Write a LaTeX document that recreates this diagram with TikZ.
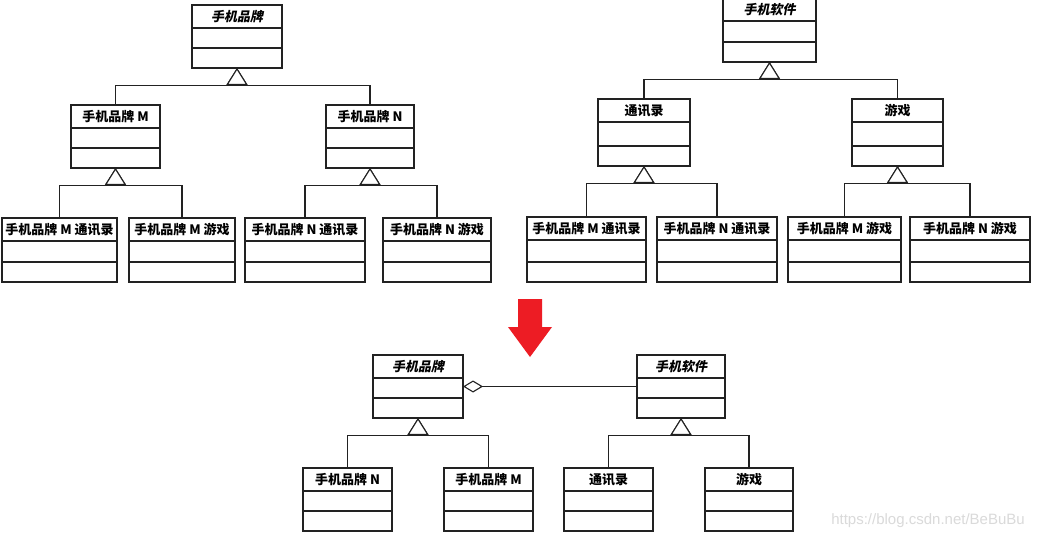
\documentclass[tikz,border=0pt]{standalone}
\usepackage{fontspec}
\newfontfamily\cjk{Noto Sans CJK SC}
\newfontfamily\cjkslant{Noto Sans CJK SC}[FakeSlant=0.2, BoldFeatures={FakeSlant=0.2}]
\setsansfont{Liberation Sans}
\usetikzlibrary{arrows.meta,calc}

\definecolor{umlink}{HTML}{222222}
\definecolor{arrowred}{HTML}{ED1C24}
\definecolor{wmgray}{HTML}{DADADA}

\begin{document}
\begin{tikzpicture}[
    x=1pt, y=-1pt,
    line width=1.1pt,
    every node/.style={font=\cjk\fontsize{13}{13}\bfseries},
    classbox/.style={draw=umlink, fill=white, inner sep=0pt, outer sep=0pt, anchor=north west},
    inh/.style={draw=umlink, -{Triangle[open, length=17pt, width=21pt, fill=white]}},
    agg/.style={draw=umlink, -{Diamond[open, length=20pt, width=12pt, fill=white]}},
  ]

  % ---- helpers -------------------------------------------------------
  % class box: name, left, top, right, bottom, title
  \newcommand{\umlclass}[6]{%
    \node[classbox, minimum width={(#4-#2)*1pt}, minimum height={(#5-#3)*1pt}] (#1) at (#2,#3) {};
    \node (#1-t) at ($(#1.north)+(0,11.5)$) {#6};
    \draw[umlink] (#2,#3+23) -- (#4,#3+23);
    \draw[umlink] (#2,#5-20) -- (#4,#5-20);
  }
  % generalisation: parent, child
  \newcommand{\inherit}[2]{%
    \draw[inh] (#2.north) |- ($(#1.south)+(0,17.5)$) -- (#1.south);
  }

  \fill[white] (0,0) rectangle (1039,540);
  \useasboundingbox (0,0) rectangle (1039,540);

  % ---- brand first (top left) ----------------------------------------
  \umlclass{brandA}{192}{5}{282}{68}{\cjkslant 手机品牌}
  \umlclass{brandAM}{71}{105}{160}{168}{手机品牌 M}
  \umlclass{brandAN}{326}{105}{414}{168}{手机品牌 N}
  \umlclass{mContacts}{2}{218}{117}{282}{手机品牌 M 通讯录}
  \umlclass{mGame}{129}{218}{235}{282}{手机品牌 M 游戏}
  \umlclass{nContacts}{245}{218}{365}{282}{手机品牌 N 通讯录}
  \umlclass{nGame}{383}{218}{491}{282}{手机品牌 N 游戏}

  \inherit{brandA}{brandAM}
  \inherit{brandA}{brandAN}
  \inherit{brandAM}{mContacts}
  \inherit{brandAM}{mGame}
  \inherit{brandAN}{nContacts}
  \inherit{brandAN}{nGame}

  % ---- software first (top right) ------------------------------------
  \umlclass{softB}{723}{-2}{816}{62}{\cjkslant 手机软件}
  \umlclass{softBC}{598}{99}{690}{166}{通讯录}
  \umlclass{softBG}{852}{99}{943}{166}{游戏}
  \umlclass{cM}{527}{217}{646}{282}{手机品牌 M 通讯录}
  \umlclass{cN}{657}{217}{777}{282}{手机品牌 N 通讯录}
  \umlclass{gM}{788}{217}{901}{282}{手机品牌 M 游戏}
  \umlclass{gN}{910}{217}{1030}{282}{手机品牌 N 游戏}

  \inherit{softB}{softBC}
  \inherit{softB}{softBG}
  \inherit{softBC}{cM}
  \inherit{softBC}{cN}
  \inherit{softBG}{gM}
  \inherit{softBG}{gN}

  % ---- red arrow -----------------------------------------------------
  \fill[arrowred] (518,299) -- (542,299) -- (542,327) -- (552,327)
    -- (530,357) -- (508,327) -- (518,327) -- cycle;

  % ---- bridge (bottom) -----------------------------------------------
  \umlclass{brand}{373}{355}{463}{418}{\cjkslant 手机品牌}
  \umlclass{soft}{637}{355}{725}{418}{\cjkslant 手机软件}
  \umlclass{brandN}{303}{468}{392}{531}{手机品牌 N}
  \umlclass{brandM}{444}{468}{533}{531}{手机品牌 M}
  \umlclass{contacts}{564}{468}{653}{531}{通讯录}
  \umlclass{game}{705}{468}{793}{531}{游戏}

  \draw[agg] (soft.west) -- (brand.east);
  \inherit{brand}{brandN}
  \inherit{brand}{brandM}
  \inherit{soft}{contacts}
  \inherit{soft}{game}

  % watermark
  \node[font=\sffamily\fontsize{15}{15}\selectfont, text=wmgray] (wm) at (928,521) {https://blog.csdn.net/BeBuBu};

\end{tikzpicture}
\end{document}
